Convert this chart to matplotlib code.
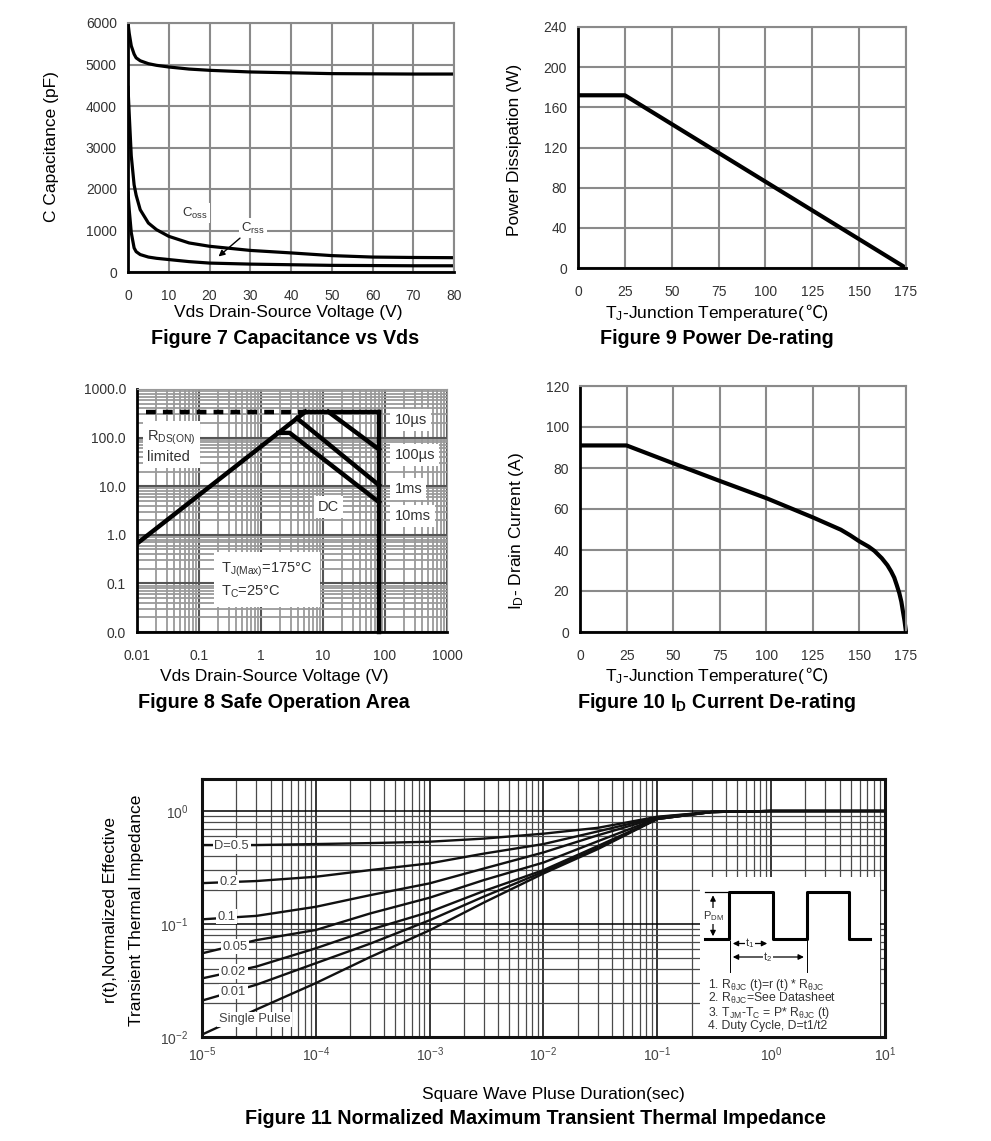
import numpy as np
import matplotlib
matplotlib.use('Agg')
import matplotlib.pyplot as plt
from matplotlib.ticker import LogLocator, NullFormatter

plt.rcParams['font.family'] = ['Liberation Sans', 'DejaVu Sans', 'Noto Sans CJK SC']
plt.rcParams['mathtext.fontset'] = 'custom'
plt.rcParams['mathtext.rm'] = 'Liberation Sans'
plt.rcParams['mathtext.it'] = 'Liberation Sans:italic'
plt.rcParams['mathtext.bf'] = 'Liberation Sans:bold'

# ---------------- data ----------------
# Figure 7 capacitance vs Vds
cap_v = [0, 0.3, 0.8, 1.5, 2, 3, 5, 7, 10, 15, 20, 30, 40, 50, 60, 70, 80]
ciss = [6000, 5750, 5450, 5250, 5160, 5090, 5020, 4980, 4940, 4890, 4860, 4820, 4800, 4780, 4775, 4770, 4770]
coss = [4450, 3800, 2800, 2100, 1850, 1500, 1180, 1020, 860, 700, 620, 520, 460, 395, 360, 350, 345]
crss = [1900, 1500, 950, 580, 490, 420, 360, 330, 300, 250, 215, 190, 175, 160, 155, 150, 150]
cap_yticks = [0, 1000, 2000, 3000, 4000, 5000, 6000]
cap_xticks = [0, 10, 20, 30, 40, 50, 60, 70, 80]

# Figure 9 power de-rating
pd_t = [0, 25, 175]
pd_w = [172, 172, 0]
pd_yticks = [0, 40, 80, 120, 160, 200, 240]
temp_ticks = [0, 25, 50, 75, 100, 125, 150, 175]

# Figure 10 drain current de-rating
id_t = [0, 25, 50, 75, 100, 125, 140, 145, 150, 155, 158, 162, 165, 167, 168.7, 170, 171.4, 172.5, 173.2, 174.2, 175]
id_a = [91, 91, 82.3, 73.7, 65.3, 55.9, 49.9, 47.2, 44.2, 41.6, 39.6, 36.0, 32.6, 29.6, 26.5, 23.0, 19.0, 14.8, 10.9, 5.5, 0]
id_yticks = [0, 20, 40, 60, 80, 100, 120]

# Figure 8 safe operating area
rds_v = [0.01, 5.2]
rds_i = [0.66, 340]
dash_v = [0.014, 5.2]
dash_i = [340, 340]
top_v = [5.2, 80]
top_i = [340, 340]
vmax_v = [80, 80]
vmax_i = [340, 0.01]
us10_v = [12.2, 80]
us10_i = [340, 57]
us100_v = [3.8, 80]
us100_i = [250, 10.5]
ms1_v = [1.9, 2.9, 80]
ms1_i = [125, 125, 4.7]
soa_ticks = [0.01, 0.1, 1, 10, 100, 1000]
soa_xlabels = ['0.01', '0.1', '1', '10', '100', '1000']
soa_ylabels = ['0.0', '0.1', '1.0', '10.0', '100.0', '1000.0']

# Figure 11 transient thermal impedance
zt_t = [1e-5, 3e-5, 1e-4, 3e-4, 1e-3, 3e-3, 1e-2, 3e-2, 1e-1, 3e-1, 1, 10]
zt_d05 = [0.50, 0.50, 0.51, 0.52, 0.535, 0.57, 0.63, 0.71, 0.89, 0.98, 1.0, 1.0]
zt_d02 = [0.23, 0.24, 0.262, 0.30, 0.344, 0.42, 0.51, 0.66, 0.88, 0.98, 1.0, 1.0]
zt_d01 = [0.11, 0.118, 0.142, 0.18, 0.229, 0.31, 0.43, 0.61, 0.87, 0.98, 1.0, 1.0]
zt_d005 = [0.055, 0.072, 0.0885, 0.124, 0.171, 0.245, 0.35, 0.54, 0.86, 0.98, 1.0, 1.0]
zt_d002 = [0.033, 0.042, 0.061, 0.089, 0.128, 0.196, 0.30, 0.49, 0.85, 0.98, 1.0, 1.0]
zt_d001 = [0.021, 0.029, 0.045, 0.067, 0.108, 0.175, 0.29, 0.47, 0.85, 0.98, 1.0, 1.0]
zt_single = [0.0105, 0.0175, 0.030, 0.051, 0.088, 0.155, 0.28, 0.46, 0.85, 0.98, 1.0, 1.0]
zt_labels = ['D=0.5', '0.2', '0.1', '0.05', '0.02', '0.01', 'Single Pulse']
zt_xticks = [1e-5, 1e-4, 1e-3, 1e-2, 1e-1, 1, 10]
zt_xlabels = [r'10$^{-5}$', r'10$^{-4}$', r'10$^{-3}$', r'10$^{-2}$', r'10$^{-1}$', r'10$^{0}$', r'10$^{1}$']
zt_yticks = [1e-2, 1e-1, 1]
zt_ylabels = [r'10$^{-2}$', r'10$^{-1}$', r'10$^{0}$']

# ---------------- figure ----------------
W, H = 991, 1141
fig = plt.figure(figsize=(W / 100, H / 100), dpi=100)
fig.patch.set_facecolor('white')
renderer = fig.canvas.get_renderer()


def add_ax(l, t, r, b):
    return fig.add_axes([l / W, 1 - b / H, (r - l) / W, (b - t) / H])


def ftext(x, y, s, **kw):
    kw.setdefault('ha', 'center')
    kw.setdefault('va', 'center')
    return fig.text(x / W, 1 - y / H, s, **kw)


GRID = '#8a8a8a'
TICKC = '#333333'
LABEL_FS = 12.5
TITLE_FS = 14.2
TICK_FS = 10


def temp_label(xc, ybase):
    # mathtext part + plain-text part so that the ℃ sign can fall back to a CJK font
    t1 = fig.text(0, 1 - ybase / H, r'T$_{\mathregular{J}}$-Junction Temperature(', fontsize=LABEL_FS,
                  ha='left', va='baseline')
    t2 = fig.text(0, 1 - ybase / H, '℃)', fontsize=LABEL_FS, ha='left', va='baseline',
                  family=['Liberation Sans', 'Noto Sans CJK SC'])
    w1 = t1.get_window_extent(renderer).width
    w2 = t2.get_window_extent(renderer).width
    left = xc - (w1 + w2) / 2
    t1.set_x(left / W)
    t2.set_x((left + w1) / W)


def linear_style(ax):
    ax.grid(True, color=GRID, lw=1.5)
    ax.set_axisbelow(True)
    for s in ['top', 'right']:
        ax.spines[s].set_color(GRID)
        ax.spines[s].set_linewidth(1.5)
    for s in ['left', 'bottom']:
        ax.spines[s].set_color('black')
        ax.spines[s].set_linewidth(2)
    ax.tick_params(length=0, labelsize=TICK_FS, labelcolor=TICKC)
    ax.tick_params(axis='y', pad=8)
    ax.tick_params(axis='x', pad=12)


# ---- Figure 7 ----
ax7 = add_ax(128, 23, 454, 272)
ax7.plot(cap_v, ciss, color='black', lw=2.3)
ax7.plot(cap_v, coss, color='black', lw=2.3)
ax7.plot(cap_v, crss, color='black', lw=2.3)
ax7.set_xlim(0, 80)
ax7.set_ylim(0, 6000)
ax7.set_xticks(cap_xticks)
ax7.set_yticks(cap_yticks)
linear_style(ax7)
bb = dict(facecolor='white', edgecolor='none', pad=1.5)
ax7.text(16.4, 1420, r'C$_{\mathregular{oss}}$', fontsize=9.5, color=TICKC, ha='center', va='center', bbox=bb)
ax7.text(30.7, 1060, r'C$_{\mathregular{rss}}$', fontsize=9.5, color=TICKC, ha='center', va='center', bbox=bb)
ax7.annotate('', xy=(21.7, 330), xytext=(28.0, 860),
             arrowprops=dict(arrowstyle='-|>', color='black', lw=1, mutation_scale=9))
ftext(52, 147, 'C Capacitance (pF)', fontsize=LABEL_FS, rotation=90)
ftext(288, 313, 'Vds Drain-Source Voltage (V)', fontsize=LABEL_FS)
ftext(285, 339, 'Figure 7 Capacitance vs Vds', fontsize=TITLE_FS, fontweight='bold')

# ---- Figure 9 ----
ax9 = add_ax(578, 27, 906, 268)
ax9.plot(pd_t, pd_w, color='black', lw=3, clip_on=False, solid_capstyle='butt')
ax9.set_xlim(0, 175)
ax9.set_ylim(0, 240)
ax9.set_xticks(temp_ticks)
ax9.set_yticks(pd_yticks)
linear_style(ax9)
ftext(515, 150, 'Power Dissipation (W)', fontsize=LABEL_FS, rotation=90)
temp_label(717, 318)
ftext(717, 339, 'Figure 9 Power De-rating', fontsize=TITLE_FS, fontweight='bold')

# ---- Figure 10 ----
ax10 = add_ax(580, 386, 906, 632)
ax10.plot(id_t, id_a, color='black', lw=3, clip_on=False, solid_capstyle='butt', solid_joinstyle='round')
ax10.set_xlim(0, 175)
ax10.set_ylim(0, 120)
ax10.set_xticks(temp_ticks)
ax10.set_yticks(id_yticks)
linear_style(ax10)
ftext(517, 531, r'I$_{\mathregular{D}}$- Drain Current (A)', fontsize=LABEL_FS, rotation=90)
temp_label(717, 681)
ftext(717, 702, r'Figure 10 I$_{\mathbf{D}}$ Current De-rating', fontsize=TITLE_FS, fontweight='bold')

# ---- Figure 8 ----
ax8 = add_ax(137, 389, 447, 632)
ax8.set_xscale('log')
ax8.set_yscale('log')
ax8.set_xlim(0.01, 1000)
ax8.set_ylim(0.01, 1000)
ax8.set_xticks(soa_ticks, soa_xlabels)
ax8.set_yticks(soa_ticks, soa_ylabels)
for axis in (ax8.xaxis, ax8.yaxis):
    axis.set_minor_locator(LogLocator(base=10, subs=np.arange(2, 10)))
    axis.set_minor_formatter(NullFormatter())
ax8.grid(True, which='minor', color='#9a9a9a', lw=1.3)
ax8.grid(True, which='major', color='#555555', lw=1.5)
ax8.set_axisbelow(True)
ax8.tick_params(which='both', length=0, labelsize=TICK_FS, labelcolor=TICKC)
ax8.tick_params(axis='y', pad=8)
ax8.tick_params(axis='x', pad=12)
for s in ['top', 'right']:
    ax8.spines[s].set_color('#9a9a9a')
for s in ['left', 'bottom']:
    ax8.spines[s].set_color('black')
    ax8.spines[s].set_linewidth(2)
LW8 = 3.2
ax8.plot(rds_v, rds_i, color='black', lw=LW8)
ax8.plot(dash_v, dash_i, color='black', lw=LW8, ls=(0, (2.2, 1.6)))
ax8.plot(top_v, top_i, color='black', lw=LW8)
ax8.plot(vmax_v, vmax_i, color='black', lw=LW8, clip_on=False)
ax8.plot(us10_v, us10_i, color='black', lw=LW8)
ax8.plot(us100_v, us100_i, color='black', lw=LW8)
ax8.plot(ms1_v, ms1_i, color='black', lw=LW8)
bb8 = dict(facecolor='white', edgecolor='none', pad=3)
ax8.text(0.0144, 67, r'R$_{\mathregular{DS(ON)}}$' + '\nlimited', fontsize=10.5, color=TICKC,
         ha='left', va='center', bbox=bb8, linespacing=1.3)
ax8.text(12.2, 3.74, 'DC', fontsize=10.5, color=TICKC, ha='center', va='center', bbox=bb8)
ax8.text(0.23, 0.115, r'T$_{\mathregular{J(Max)}}$=175°C' + '\n' + r'T$_{\mathregular{C}}$=25°C', fontsize=10.5,
         color=TICKC, ha='left', va='center', bbox=dict(facecolor='white', edgecolor='none', pad=5),
         linespacing=1.4)
for lab, yv in [('10µs', 230), ('100µs', 43.5), ('1ms', 8.7), ('10ms', 2.44)]:
    ax8.text(142, yv, lab, fontsize=10.5, color=TICKC, ha='left', va='center', bbox=bb8)
ftext(274, 676, 'Vds Drain-Source Voltage (V)', fontsize=LABEL_FS)
ftext(274, 702, 'Figure 8 Safe Operation Area', fontsize=TITLE_FS, fontweight='bold')

# ---- Figure 11 ----
ax11 = add_ax(202, 779, 885, 1037)
ax11.set_xscale('log')
ax11.set_yscale('log')
ax11.set_xlim(1e-5, 10)
ax11.set_ylim(0.01, 1.92)
ax11.set_xticks(zt_xticks, zt_xlabels)
ax11.set_yticks(zt_yticks, zt_ylabels)
for axis in (ax11.xaxis, ax11.yaxis):
    axis.set_minor_locator(LogLocator(base=10, subs=np.arange(2, 10)))
    axis.set_minor_formatter(NullFormatter())
ax11.grid(True, which='minor', color='#4a4a4a', lw=0.9)
ax11.grid(True, which='major', color='black', lw=1.1)
ax11.set_axisbelow(True)
ax11.tick_params(which='both', length=0, labelsize=10, labelcolor='#444444')
ax11.tick_params(axis='y', pad=10)
ax11.tick_params(axis='x', pad=6)
for s in ax11.spines.values():
    s.set_linewidth(2.2)
    s.set_color('#111111')
curves = [zt_d05, zt_d02, zt_d01, zt_d005, zt_d002, zt_d001, zt_single]
for c in curves:
    ax11.plot(zt_t, c, color='#111111', lw=1.7)
lab_pos = [(1.82e-5, 0.49), (1.7e-5, 0.234), (1.65e-5, 0.116), (1.95e-5, 0.063),
           (1.88e-5, 0.0378), (1.88e-5, 0.0252), (2.92e-5, 0.01435)]
bb11 = dict(facecolor='white', edgecolor='none', pad=1.2)
for lab, (xx, yy) in zip(zt_labels, lab_pos):
    ax11.text(xx, yy, lab, fontsize=9.3, color='#444444', ha='center', va='center', bbox=bb11)

# inset with pulse diagram (pixel coordinates of schematic)
ins = fig.add_axes([700 / W, 1 - 1035.5 / H, 180 / W, (1035.5 - 877) / H])
ins.set_xlim(700, 880)
ins.set_ylim(1035.5, 877)
ins.set_facecolor('white')
ins.axis('off')
ins.add_patch(plt.Rectangle((700, 877), 180, 158.5, facecolor='white', edgecolor='none'))
wx = [705, 729.3, 729.3, 772.7, 772.7, 806.7, 806.7, 849.3, 849.3, 870]
wy = [939.3, 939.3, 892.3, 892.3, 939.3, 939.3, 892.3, 892.3, 939.3, 939.3]
ins.plot(wx, wy, color='black', lw=2.2)
ins.plot([705, 729.3], [892.3, 892.3], color='black', lw=0.9)
ins.annotate('', xy=(713, 892.5), xytext=(713, 916), arrowprops=dict(arrowstyle='-|>', color='black', lw=0.9, mutation_scale=8))
ins.annotate('', xy=(713, 939), xytext=(713, 916), arrowprops=dict(arrowstyle='-|>', color='black', lw=0.9, mutation_scale=8))
ins.text(713, 916, r'P$_{\mathregular{DM}}$', fontsize=8, color='#333333', ha='center', va='center',
         bbox=dict(facecolor='white', edgecolor='none', pad=0.8))
ins.plot([730, 730], [941, 972], color='black', lw=0.7)
ins.plot([806.7, 806.7], [941, 972], color='black', lw=0.7)
ins.annotate('', xy=(730, 943.5), xytext=(770, 943.5), arrowprops=dict(arrowstyle='<|-|>', color='black', lw=0.9, mutation_scale=8))
ins.text(750, 943.5, r't$_{\mathregular{1}}$', fontsize=8, color='#333333', ha='center', va='center',
         bbox=dict(facecolor='white', edgecolor='none', pad=0.6))
ins.annotate('', xy=(730, 957), xytext=(806.7, 957), arrowprops=dict(arrowstyle='<|-|>', color='black', lw=0.9, mutation_scale=8))
ins.text(768, 957, r't$_{\mathregular{2}}$', fontsize=8, color='#333333', ha='center', va='center',
         bbox=dict(facecolor='white', edgecolor='none', pad=0.6))
notes = [r'1. R$_{\mathregular{θJC}}$ (t)=r (t) * R$_{\mathregular{θJC}}$',
         r'2. R$_{\mathregular{θJC}}$=See Datasheet',
         r'3. T$_{\mathregular{JM}}$-T$_{\mathregular{C}}$ = P* R$_{\mathregular{θJC}}$ (t)',
         '4. Duty Cycle, D=t1/t2']
for i, n in enumerate(notes):
    ins.text(708, 985 + i * 13.8, n, fontsize=8.8, color='#333333', ha='left', va='center')

ftext(110, 910, 'r(t),Normalized Effective', fontsize=LABEL_FS, rotation=90)
ftext(137, 910, 'Transient Thermal Impedance', fontsize=LABEL_FS, rotation=90)
ftext(553, 1094, 'Square Wave Pluse Duration(sec)', fontsize=LABEL_FS)
ftext(535, 1119, 'Figure 11 Normalized Maximum Transient Thermal Impedance', fontsize=TITLE_FS, fontweight='bold')

fig.savefig('out.png', dpi=100, facecolor='white')
